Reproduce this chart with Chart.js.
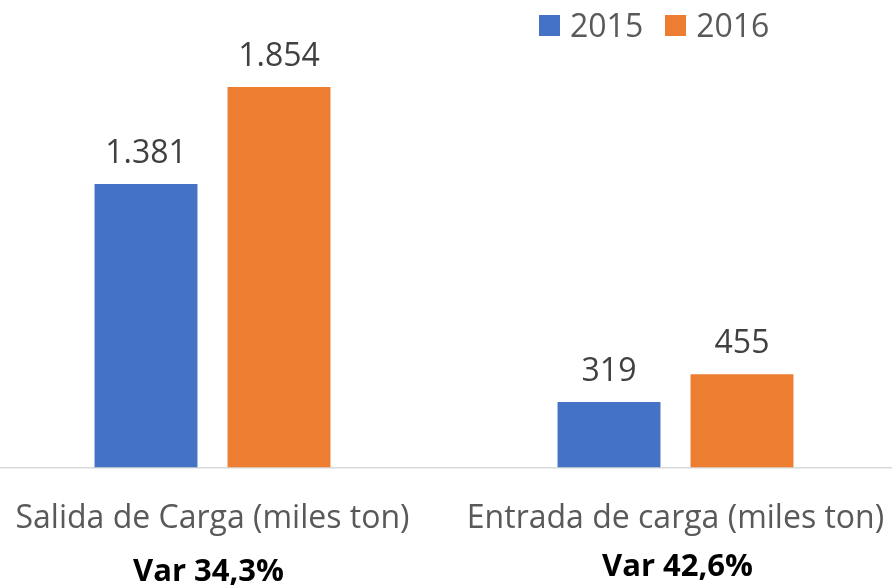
<!DOCTYPE html>
<html>
<head>
<meta charset="utf-8">
<script src="https://cdn.jsdelivr.net/npm/chart.js@4.4.0/dist/chart.umd.min.js"></script>
<style>
    body { margin: 0; background: #fff; overflow: hidden; width: 892px; height: 587px; position: relative; }
    #wrap { position: absolute; left: -19px; top: 0; width: 926px; height: 587px; }
    #legend { position: absolute; left: 539px; top: 9px; display: flex; align-items: center;
        font-family: "Open Sans", sans-serif; font-size: 32px; line-height: 32px; color: #595959; }
    .item { display: flex; align-items: center; margin-right: 22px; }
    .box { width: 21px; height: 21px; margin-right: 10px; }
</style>
</head>
<body>
<div id="wrap"><canvas id="mychart"></canvas></div>
<div id="legend"></div>
<script>
const categories = ['Salida de Carga (miles ton)', 'Entrada de carga (miles ton)'];
const variations = ['Var 34,3%', 'Var 42,6%'];
const seriesNames = ['2015', '2016'];
const values2015 = [1381, 319];
const values2016 = [1854, 455];
const colors = ['#4472C4', '#ED7D31'];

function fmt(v) {
    return String(v).replace(/\B(?=(\d{3})+(?!\d))/g, '.');
}

// numbers above the bars
const valueLabels = {
    id: 'valueLabels',
    afterDatasetsDraw(chart) {
        let ctx = chart.ctx;
        ctx.save();
        ctx.font = '32px "Open Sans"';
        ctx.fillStyle = '#404040';
        ctx.textAlign = 'center';
        ctx.textBaseline = 'alphabetic';
        chart.data.datasets.forEach(function(ds, i) {
            chart.getDatasetMeta(i).data.forEach(function(bar, j) {
                ctx.fillText(fmt(ds.data[j]), bar.x, bar.y - 21);
            });
        });
        ctx.restore();
    }
};

// bold "Var" line under each category
const varLabels = {
    id: 'varLabels',
    afterDraw(chart) {
        let ctx = chart.ctx;
        let x = chart.scales.x;
        let yPos = [581, 576];
        ctx.save();
        ctx.font = 'bold 31px "Open Sans"';
        ctx.fillStyle = '#000';
        ctx.textAlign = 'center';
        variations.forEach(function(t, i) {
            ctx.fillText(t, x.getPixelForValue(i) - 4 + i * 6, yPos[i]);
        });
        ctx.restore();
    }
};

var ctx = document.getElementById('mychart');
var myChart = new Chart(ctx, {
    type: 'bar',
    data: {
        labels: categories,
        datasets: [{
            label: seriesNames[0],
            data: values2015,
            backgroundColor: colors[0]
        }, {
            label: seriesNames[1],
            data: values2016,
            backgroundColor: colors[1]
        }]
    },
    options: {
        responsive: true,
        maintainAspectRatio: false,
        animation: false,
        categoryPercentage: 0.5745,
        barPercentage: 0.774,
        layout: { padding: { top: 57, bottom: 17, left: 0, right: 0 } },
        plugins: {
            legend: { display: false },
            tooltip: { enabled: false }
        },
        scales: {
            x: {
                grid: { display: false, drawTicks: false },
                border: { display: true, color: '#D9D9D9', width: 1.5 },
                ticks: {
                    padding: 32,
                    color: '#595959',
                    font: { family: 'Open Sans', size: 32 },
                    maxRotation: 0,
                    autoSkip: false
                },
                afterFit: function(scale) {
                    scale.paddingLeft = 0;
                    scale.paddingRight = 0;
                }
            },
            y: {
                display: false,
                min: 0,
                max: 2000
            }
        }
    },
    plugins: [valueLabels, varLabels]
});

// legend built from the datasets
let legend = document.getElementById('legend');
myChart.data.datasets.forEach(function(ds) {
    let item = document.createElement('div');
    item.className = 'item';
    let box = document.createElement('div');
    box.className = 'box';
    box.style.background = ds.backgroundColor;
    let txt = document.createElement('span');
    txt.textContent = ds.label;
    item.appendChild(box);
    item.appendChild(txt);
    legend.appendChild(item);
});
</script>
</body>
</html>
